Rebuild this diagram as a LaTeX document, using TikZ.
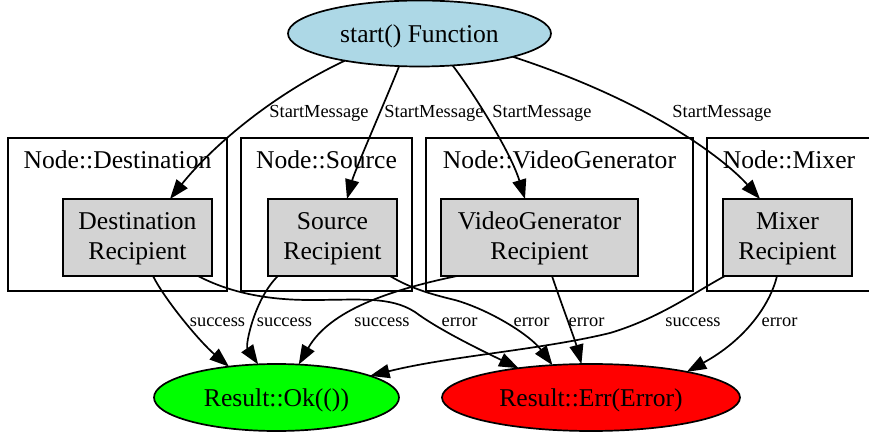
\documentclass[tikz,border=0pt]{standalone}
\usepackage{fontspec}
\setmainfont{Liberation Serif}
\usetikzlibrary{shapes.geometric,arrows.meta}
\definecolor{lblue}{HTML}{ADD8E6}
\definecolor{lgray}{HTML}{D3D3D3}
\definecolor{vgreen}{HTML}{00FF00}
\definecolor{vred}{HTML}{FF0000}
\begin{document}
\begin{tikzpicture}[x=1pt,y=-1pt,
  every node/.style={inner sep=0pt, outer sep=0pt},
  nodefont/.style={font=\fontsize{25.6}{30}\selectfont},
  edgefont/.style={font=\fontsize{18.4}{20}\selectfont},
  ellnode/.style={ellipse, draw, line width=1.7pt, nodefont, text height=20pt, text depth=2pt},
  recbox/.style={rectangle, draw, line width=1.7pt, fill=lgray, nodefont, align=center, minimum height=77pt, text height=50.5pt, text depth=5.5pt},
  clusterbox/.style={rectangle, draw, line width=1.7pt, minimum height=153pt},
  clusterlabel/.style={nodefont, anchor=base},
  conn/.style={draw, line width=1.7pt, -{Triangle[length=19.5pt,width=14pt]}},
  lbl/.style={edgefont, anchor=base}
]
\clip (0,0) rectangle (869,443);
\fill[white] (0,0) rectangle (869,443);

% clusters
\node[clusterbox, minimum width=219pt] (cdest) at (117.5,214.5) {};
\node[clusterbox, minimum width=171pt] (csrc) at (326.5,214.5) {};
\node[clusterbox, minimum width=267pt] (cvg) at (559.5,214.5) {};
\node[clusterbox, minimum width=164pt] (cmix) at (789,214.5) {};
\node[clusterlabel] (ldest) at ([yshift=-30.5pt]cdest.north) {Node::Destination};
\node[clusterlabel] (lsrc) at ([yshift=-30.5pt]csrc.north) {Node::Source};
\node[clusterlabel] (lvg) at ([yshift=-30.5pt]cvg.north) {Node::VideoGenerator};
\node[clusterlabel] (lmix) at ([yshift=-30.5pt]cmix.north) {Node::Mixer};

% recipients
\node[recbox, minimum width=149pt] (dest) at (137.5,237.5) {Destination\\Recipient};
\node[recbox, minimum width=129pt] (src) at (332.5,237.5) {Source\\Recipient};
\node[recbox, minimum width=197pt] (vg) at (539.5,237.5) {VideoGenerator\\Recipient};
\node[recbox, minimum width=129pt] (mix) at (787.5,237.5) {Mixer\\Recipient};

% ellipses
\node[ellnode, fill=lblue, minimum width=263pt, minimum height=66pt] (start) at (419.5,33.5) {start() Function};
\node[ellnode, fill=vgreen, minimum width=245pt, minimum height=67pt] (ok) at (276.5,397.5) {Result::Ok(())};
\node[ellnode, fill=vred, minimum width=298pt, minimum height=67pt] (err) at (591,397.5) {Result::Err(Error)};

% start messages
\draw[conn] (start.200) .. controls (262,100) and (205,155) .. ([xshift=32.5pt]dest.north);
\draw[conn] (start.238) .. controls (390,90) and (355,170) .. ([xshift=14.5pt]src.north);
\draw[conn] (start.316) .. controls (470,88) and (510,150) .. ([xshift=-14.5pt]vg.north);
\draw[conn] (start.346) .. controls (660,105) and (730,165) .. ([xshift=-27.5pt]mix.north);
\node[lbl] (sm1) at (319,117.5) {StartMessage};
\node[lbl] (sm2) at (434,117.5) {StartMessage};
\node[lbl] (sm3) at (542,117.5) {StartMessage};
\node[lbl] (sm4) at (722,117.5) {StartMessage};

% success edges
\draw[conn] ([xshift=15.5pt]dest.south) .. controls (165,300) and (200,342) .. (ok.147);
\draw[conn] ([xshift=10pt]src.south west) .. controls (255,298) and (245,345) .. (ok.119);
\draw[conn] ([xshift=16pt]vg.south west) .. controls (390,290) and (330,310) .. (ok.56);
\draw[conn] ([xshift=2pt]mix.south west) .. controls (695,292) and (660,318) .. (610,333)
  .. controls (540,350) and (450,356) .. (ok.13);

% error edges
\draw[conn] ([xshift=-14pt]dest.south east) .. controls (225,290) and (260,300) .. (310,300)
  .. controls (360,300) and (390,296) .. (415,312)
  .. controls (435,327) and (470,345) .. (err.158);
\draw[conn] ([xshift=-7pt]src.south east) .. controls (410,288) and (430,294) .. (455,300)
  .. controls (490,310) and (530,335) .. (err.140);
\draw[conn] ([xshift=12.5pt]vg.south) .. controls (560,300) and (575,340) .. (err.106);
\draw[conn] ([xshift=-10.5pt]mix.south) .. controls (770,305) and (745,340) .. (err.15);

\node[lbl] (s1) at (217.5,326) {success};
\node[lbl] (s2) at (284.5,326) {success};
\node[lbl] (s3) at (382,326) {success};
\node[lbl] (s4) at (693,326) {success};
\node[lbl] (e1) at (459.5,326) {error};
\node[lbl] (e2) at (531.5,326) {error};
\node[lbl] (e3) at (586.5,326) {error};
\node[lbl] (e4) at (779.5,326) {error};
\end{tikzpicture}
\end{document}
